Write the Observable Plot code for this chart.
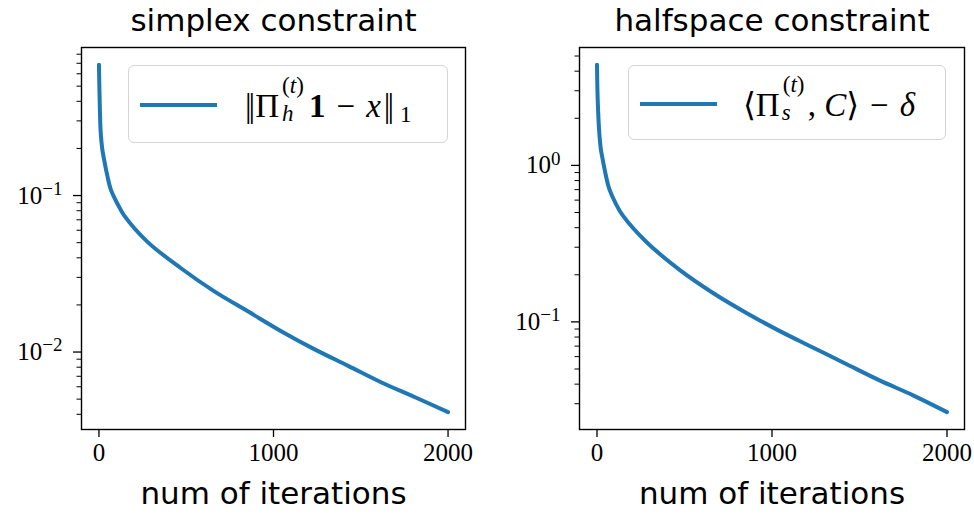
<!DOCTYPE html>
<html><head><meta charset="utf-8">
<script src="https://cdn.jsdelivr.net/npm/d3@7"></script>
<script src="https://cdn.jsdelivr.net/npm/@observablehq/plot@0.6"></script>
<style>
body{margin:0;background:#fff}
#wrap{position:relative;width:974px;height:514px;overflow:hidden;background:#fff}
.panel{position:absolute;top:0}
.legend{position:absolute;box-sizing:border-box;border:1.5px solid #d4d4d4;border-radius:6px;background:rgba(255,255,255,0.85)}
.legend .sw{position:absolute;height:4px;background:#1f77b4}
.legend .lab{position:absolute;font-family:"Liberation Serif","DejaVu Serif",serif;font-size:33px;white-space:nowrap;line-height:1;color:#000}
.ss{display:inline-block;position:relative;height:0;vertical-align:baseline}
.ss span{position:absolute;left:0;font-size:23px;line-height:1}
.sub1{font-size:23px;position:relative;top:5px;margin-left:6px}
.bar{letter-spacing:-3px;margin-right:3px}
</style>
</head><body>
<div id="wrap"></div>
<script>
// ---- data ----
const itersSimplex = [0, 4, 10, 19, 29, 48, 67, 106, 144, 278, 470, 661, 853, 1044, 1236, 1428, 1619, 1811, 2000];
const simplexErr   = [0.684, 0.41, 0.252, 0.198, 0.171, 0.134, 0.110, 0.0886, 0.0747, 0.0506, 0.0343, 0.0244, 0.0182, 0.0136, 0.0104, 0.00816, 0.00639, 0.00514, 0.00413];
const itersHalfspace = [0, 4, 13, 22, 32, 51, 70, 108, 147, 281, 472, 663, 854, 1045, 1236, 1427, 1618, 1809, 2000];
const halfspaceErr   = [4.39, 2.63, 1.62, 1.27, 1.10, 0.859, 0.708, 0.568, 0.479, 0.325, 0.215, 0.153, 0.114, 0.0873, 0.0684, 0.0536, 0.0421, 0.0338, 0.0265];

const xTicks = [0, 1000, 2000];
const simplexMajor = [0.01, 0.1];
const simplexMinor = [0.004,0.005,0.006,0.007,0.008,0.009,0.02,0.03,0.04,0.05,0.06,0.07,0.08,0.09,0.2,0.3,0.4,0.5,0.6,0.7,0.8];
const halfspaceMajor = [0.1, 1];
const halfspaceMinor = [0.03,0.04,0.05,0.06,0.07,0.08,0.09,0.2,0.3,0.4,0.5,0.6,0.7,0.8,0.9,2,3,4,5];

const titles = ["simplex constraint", "halfspace constraint"];
const xLabel = "num of iterations";
const blue = "#1f77b4";

function logDomain(vals) {
  const lo = Math.log10(d3.min(vals)), hi = Math.log10(d3.max(vals)), r = hi - lo;
  return [Math.pow(10, lo - 0.05 * r), Math.pow(10, hi + 0.05 * r)];
}
function linDomain(vals) {
  const lo = d3.min(vals), hi = d3.max(vals), r = hi - lo;
  return [lo - 0.05 * r, hi + 0.05 * r];
}

function makePanel(iters, vals, major, minor, title, ml, mr) {
  const data = iters.map((x, i) => ({x, y: vals[i]}));
  const svg = Plot.plot({
    width: 487, height: 514,
    marginLeft: ml, marginRight: mr, marginTop: 47, marginBottom: 85,
    style: {fontFamily: '"Liberation Serif", serif', fontSize: "25px", color: "#000", background: "transparent", overflow: "visible"},
    x: {domain: linDomain(iters)},
    y: {type: "log", domain: logDomain(vals)},
    marks: [
      Plot.axisX(xTicks, {tickSize: 8, tickPadding: 6, tickFormat: d => String(d), label: null, strokeWidth: 1.3}),
      Plot.axisY(major, {tickSize: 8, tickPadding: 11, tickFormat: d => "10^" + Math.round(Math.log10(d)), label: null, strokeWidth: 1.3}),
      Plot.axisY(minor, {tickSize: 4.5, tickFormat: () => "", label: null, strokeWidth: 1}),
      Plot.line(data, {x: "x", y: "y", stroke: blue, strokeWidth: 4, curve: "catmull-rom"}),
      Plot.frame({stroke: "#000", strokeWidth: 1.4}),
      Plot.text([title], {text: d => d, frameAnchor: "top", lineAnchor: "bottom", dy: -17, fontFamily: '"DejaVu Sans", sans-serif', fontSize: 31}),
      Plot.text([xLabel], {text: d => d, frameAnchor: "bottom", lineAnchor: "bottom", dy: 74, fontFamily: '"DejaVu Sans", sans-serif', fontSize: 31})
    ]
  });
  // typeset powers of ten as superscripts
  d3.select(svg).selectAll("text").each(function() {
    const t = this.textContent;
    const m = /^10\^(-?\d+)$/.exec(t);
    if (m) {
      const el = d3.select(this);
      el.text("10");
      el.append("tspan").attr("dy", "-0.45em").attr("font-size", "0.76em").text(m[1].replace("-", "\u2212"));
    }
  });
  return svg;
}

const wrap = document.getElementById("wrap");
const left = makePanel(itersSimplex, simplexErr, simplexMajor, simplexMinor, titles[0], 81, 22);
const right = makePanel(itersHalfspace, halfspaceErr, halfspaceMajor, halfspaceMinor, titles[1], 92, 10);
const dl = document.createElement("div"); dl.className = "panel"; dl.style.left = "0px"; dl.appendChild(left);
const dr = document.createElement("div"); dr.className = "panel"; dr.style.left = "487px"; dr.appendChild(right);
wrap.appendChild(dl); wrap.appendChild(dr);

// legends
function legend(x, y, w, h, tx, html) {
  const box = document.createElement("div");
  box.className = "legend";
  Object.assign(box.style, {left: x + "px", top: y + "px", width: w + "px", height: h + "px"});
  box.innerHTML = `<div class="sw" style="left:11px;top:${Math.round(h/2)-2}px;width:77px"></div><div class="lab" style="left:${tx}px;top:${Math.round(h/2)-15.5}px">${html}</div>`;
  wrap.appendChild(box);
}
legend(128, 65, 320, 78, 116,
  '<span class="bar">||</span>\u03A0<span class="ss" style="width:30px"><span style="bottom:20px;left:3px">(<i>t</i>)</span><span style="bottom:-8px;left:3px"><i>h</i></span></span><b>1</b><span style="margin:0 11px">\u2212</span><i>x</i><span class="bar" style="margin-left:3px">||</span><span class="sub1">1</span>');
legend(628, 65, 318, 75, 114,
  '\u27E8\u03A0<span class="ss" style="width:28px"><span style="bottom:20px;left:3px">(<i>t</i>)</span><span style="bottom:-8px;left:2px"><i>s</i></span></span>, <i>C</i>\u27E9<span style="margin:0 11px">\u2212</span><i>\u03B4</i>');
</script>
</body></html>
